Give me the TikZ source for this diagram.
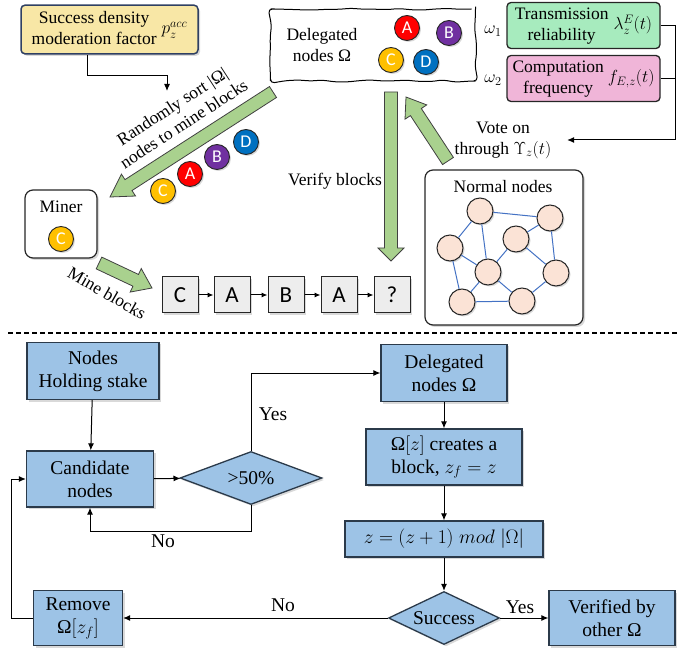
\RequirePackage{fix-cm}
\documentclass[tikz,border=0pt]{standalone}
\usepackage{fontspec}
\setmainfont{Liberation Serif}
\newfontfamily\sansfont{Carlito}
\usetikzlibrary{positioning,calc,shapes.geometric,shadows,decorations.pathmorphing,arrows.meta}

\definecolor{flowblue}{HTML}{9DC3E6}
\definecolor{flowedge}{HTML}{2B3A4A}
\definecolor{paleyellow}{HTML}{F8E7A6}
\definecolor{navy}{HTML}{2F4063}
\definecolor{relgreen}{HTML}{A7EBBE}
\definecolor{freqpink}{HTML}{F0B5D8}
\definecolor{arrowgreen}{HTML}{A9D18E}
\definecolor{peach}{HTML}{FBE3D6}
\definecolor{linkblue}{HTML}{4472C4}
\definecolor{ballred}{HTML}{FF0000}
\definecolor{ballpurple}{HTML}{7030A0}
\definecolor{ballyellow}{HTML}{FFC000}
\definecolor{ballblue}{HTML}{0070C0}
\definecolor{blockgray}{HTML}{EDEDED}

\newcommand\topfont{\fontsize{17.5}{21}\selectfont}
\newcommand\flowfont{\fontsize{19.5}{23}\selectfont}

% fat green arrow: [head length]{tail}{tip}
\newcommand\fatarrow[3][20pt]{%
  \coordinate (fa-h) at ($(#3)!#1!(#2)$);
  \draw[fatarrow] ($(#2)!6.5pt!90:(#3)$) -- ($(fa-h)!6.5pt!90:(#3)$)
    -- ($(fa-h)!13pt!90:(#3)$) -- (#3) -- ($(fa-h)!13pt!-90:(#3)$)
    -- ($(fa-h)!6.5pt!-90:(#3)$) -- ($(#2)!6.5pt!-90:(#3)$) -- cycle;}

\tikzset{
  softshadow/.style={drop shadow={shadow xshift=2pt, shadow yshift=-2pt, opacity=0.3}},
  flowbox/.style={draw=flowedge, line width=1.3pt, fill=flowblue, align=center,
    font=\flowfont, inner sep=2pt, softshadow},
  flowdiamond/.style={diamond, draw=flowedge, line width=1.3pt, fill=flowblue,
    font=\flowfont, inner sep=0pt, softshadow},
  factorbox/.style={draw=navy, line width=1.5pt, fill=paleyellow, rounded corners=4pt,
    font=\topfont, softshadow},
  relbox/.style={draw=black!85, line width=1.3pt, rounded corners=4pt, font=\topfont,
    minimum width=153, minimum height=44, inner sep=2pt},
  wavybox/.style={draw, line width=1pt, rounded corners=4pt, decorate,
    decoration={random steps, segment length=12pt, amplitude=1.1pt}},
  ball/.style={circle, draw=black!85, line width=0.9pt, minimum size=25pt, inner sep=0pt,
    text=white, font=\sansfont\fontsize{18}{18}\selectfont,
    drop shadow={shadow xshift=1.5pt, shadow yshift=-1.5pt, opacity=0.3}},
  blockbox/.style={draw=black!85, line width=1pt, fill=blockgray, minimum size=36pt,
    inner sep=0pt, font=\sansfont\fontsize{23}{23}\selectfont, softshadow},
  roundbox/.style={draw=black!85, line width=1.2pt, fill=white, rounded corners=8pt, softshadow},
  peer/.style={circle, draw=black!85, line width=1pt, fill=peach, minimum size=26pt,
    inner sep=0pt, drop shadow={shadow xshift=1.5pt, shadow yshift=-1.5pt, opacity=0.3}},
  fatarrow/.style={fill=arrowgreen, draw=black!75, line width=0.8pt, line join=miter},
  label/.style={font=\topfont, align=center},
  flowlabel/.style={font=\flowfont}
}

\begin{document}
\begin{tikzpicture}[x=1pt, y=-1pt, line width=1pt, >={Latex[length=7pt,width=6pt]}]
\useasboundingbox (0,0) rectangle (699,652);
\pgfmathsetseed{7}

% ---- upper part
\node[factorbox, minimum width=177, minimum height=45] (pacc) at (109.5,29.5)
  {\begin{tabular}{@{}c@{}}Success density\\moderation factor\end{tabular}\hspace{5pt}$p_z^{acc}$};
\node[wavybox, minimum width=205, minimum height=72] (deleg) at (373,45) {};
\node[label] (delegtext) at (322,45) {Delegated\\nodes Ω};
\node[ball, fill=ballred] (ba) at (407,28) {A};
\node[ball, fill=ballpurple] (bb) at (449,33) {B};
\node[ball, fill=ballyellow] (bc) at (391,60) {C};
\node[ball, fill=ballblue] (bd) at (426,62) {D};

\node[relbox, fill=relgreen] (trans) at (583.5,25.5)
  {\begin{tabular}{@{}c@{}}Transmission\\reliability\end{tabular}\hspace{5pt}$\lambda_z^E(t)$};
\node[relbox, fill=freqpink] (comp) at (583.5,78.5)
  {\begin{tabular}{@{}c@{}}Computation\\frequency\end{tabular}\hspace{4pt}$f_{E,z}(t)$};
\node[label] (w1) at (493,31) {$\omega_1$};
\node[label] (w2) at (493,80) {$\omega_2$};
\node[label] (vote) at (503,140) {Vote on\\through $\Upsilon_z(t)$};
\draw[->] (trans.east) -- ++(15,0) coordinate (votebus) |- ([xshift=12pt]vote.east);
\draw (comp.east) -- (comp.east -| votebus);

\coordinate (sortin) at (167,91);
\draw[->] ([xshift=-22.5pt]pacc.south) -- ++(0,21) -| (sortin);

% green arrows
\coordinate (sortfrom) at (273,92);
\coordinate (sortto) at (110,197);
\coordinate (verifyfrom) at (391,92);
\coordinate (verifyto) at (391,261);
\coordinate (votefrom) at (448,161);
\coordinate (voteto) at (406,97);
\coordinate (minefrom) at (99,263);
\coordinate (mineto) at (152,288);
\fatarrow[22pt]{sortfrom}{sortto}
\fatarrow[13pt]{verifyfrom}{verifyto}
\fatarrow[18pt]{votefrom}{voteto}
\fatarrow[18pt]{minefrom}{mineto}

\node[label, rotate=33] (sortlabel) at (178,115) {Randomly sort |Ω|\\nodes to mine blocks};
\node[ball, fill=ballblue] (bd2) at (246,142) {D};
\node[ball, fill=ballpurple] (bb2) at (217,157) {B};
\node[ball, fill=ballred] (ba2) at (190,174) {A};
\node[ball, fill=ballyellow] (bc2) at (163,191) {C};

\node[roundbox, minimum width=72, minimum height=68] (miner) at (61,224) {};
\node[label] (minerlabel) at (61,207) {Miner};
\node[ball, fill=ballyellow] (bc3) at (61,239) {C};
\node[label, rotate=-30] (minelabel) at (107,293) {Mine blocks};

\foreach \name/\x/\t in {k1/180/C, k2/232/A, k3/286/B, k4/339/A, k5/392/?}
  \node[blockbox] (\name) at (\x,295) {\t};
\foreach \i [evaluate=\i as \j using int(\i+1)] in {1,...,4}
  \draw[->, >={Latex[length=6pt,width=5pt]}] (k\i) -- (k\j);

\node[label] (verifylabel) at (335,181) {Verify blocks};

\node[roundbox, minimum width=158, minimum height=155] (normal) at (504,247.5) {};
\node[label] (normaltitle) at (503,187) {Normal nodes};
\foreach \n/\x/\y in {n1/480/211, n2/550/218, n3/516/239, n4/450/248,
                      n5/488/272, n6/556/273, n7/462/302, n8/522/301}
  \node[peer] (\n) at (\x,\y) {};
\foreach \a/\b in {n1/n2, n1/n4, n1/n5, n3/n2, n3/n5, n3/n6, n2/n6,
                   n4/n5, n4/n7, n5/n7, n5/n8, n7/n8, n8/n6}
  \draw[linkblue] (\a) -- (\b);

\draw[line width=1.3pt, dash pattern=on 5pt off 3pt] (8,333) -- (678,333);

% ---- flow chart
\node[flowbox, minimum width=132, minimum height=57] (stake) at (93,371) {Nodes\\Holding stake};
\node[flowbox, minimum width=127, minimum height=56] (cand) at (90,479) {Candidate\\nodes};
\node[flowdiamond, minimum width=142, minimum height=53, aspect=2.7] (half) at (251,478) {>50\%};
\node[flowbox, minimum width=126, minimum height=57] (delegated) at (444,373) {Delegated\\nodes Ω};
\node[flowbox, minimum width=156, minimum height=56] (creates) at (444,457) {Ω$[z]$ creates a\\block, $z_f=z$};
\node[flowbox, minimum width=198, minimum height=36] (advance) at (444,539) {$z=(z+1)\;mod\;|\Omega|$};
\node[flowdiamond, minimum width=111, minimum height=53, aspect=2.1] (success) at (444,618) {Success};
\node[flowbox, minimum width=126, minimum height=55] (verified) at (612,618) {Verified by\\other Ω};
\node[flowbox, minimum width=89, minimum height=55] (remove) at (78,618) {Remove\\Ω$[z_f]$};

\draw[->] (stake) -- (cand);
\draw[->] (cand) -- (half);
\draw[->] (half.north) |- (delegated.west);
\draw[->] (half.south) -- ++(0,26) -| (cand.south);
\draw[->] (delegated) -- (creates);
\draw[->] (creates) -- (advance);
\draw[->] (advance) -- (success);
\draw[->] (success) -- (verified);
\draw[->] (success) -- (remove);
\draw[->] (remove.west) -- ++(-21,0) |- (cand.west);

\node[flowlabel] (yes1) at (273,414) {Yes};
\node[flowlabel] (no1) at (163,541) {No};
\node[flowlabel] (no2) at (283,605) {No};
\node[flowlabel] (yes2) at (520,607) {Yes};
\end{tikzpicture}
\end{document}
